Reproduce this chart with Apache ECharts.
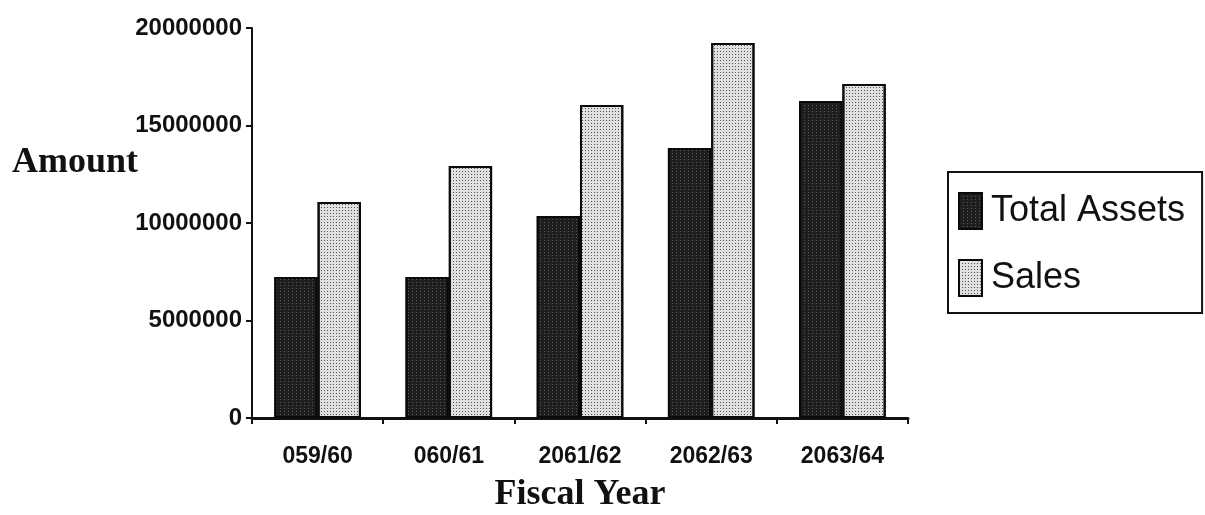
<!DOCTYPE html>
<html>
<head>
<meta charset="utf-8">
<script src="https://cdn.jsdelivr.net/npm/echarts@6/dist/echarts.min.js"></script>
<style>
  html, body { margin: 0; padding: 0; background: #fff; }
  #chart { width: 1205px; height: 515px; }
</style>
</head>
<body>
<div id="chart"></div>
<script>
// Fiscal years on the category axis
const fiscalYears = ['059/60', '060/61', '2061/62', '2062/63', '2063/64'];
// Amounts per fiscal year
const totalAssets = [7230000, 7230000, 10360000, 13850000, 16260000];
const sales = [11080000, 12920000, 16050000, 19230000, 17130000];
// Value axis range and step
const amountMax = 20000000;
const amountStep = 5000000;

const sans = "'Liberation Sans', Arial, sans-serif";
const serif = "'Liberation Serif', 'Times New Roman', serif";

const chart = echarts.init(document.getElementById('chart'), null, { renderer: 'canvas' });

chart.setOption({
  backgroundColor: '#ffffff',
  animation: false,
  grid: { left: 252, right: 297, top: 28, bottom: 97, containLabel: false, outerBoundsMode: 'none' },
  legend: {
    orient: 'vertical',
    left: 948,
    top: 172,
    padding: [20, 17, 16, 10],
    itemGap: 29,
    itemWidth: 23,
    itemHeight: 36,
    borderColor: '#111',
    borderWidth: 2,
    borderRadius: 0,
    icon: 'rect',
    textStyle: { fontFamily: sans, fontSize: 36, color: '#111', padding: [0, 0, 0, 4] },
    data: ['Total Assets', 'Sales']
  },
  xAxis: {
    type: 'category',
    data: fiscalYears,
    name: 'Fiscal Year',
    nameLocation: 'middle',
    nameGap: 59,
    nameMoveOverlap: false,
    nameTextStyle: { fontFamily: serif, fontWeight: 'bold', fontSize: 36, color: '#111' },
    axisLine: { lineStyle: { color: '#111', width: 3 } },
    axisTick: { show: true, length: 6, lineStyle: { color: '#111', width: 2 } },
    axisLabel: { interval: 0, fontFamily: sans, fontWeight: 'bold', fontSize: 23, color: '#111', margin: 27 }
  },
  yAxis: {
    type: 'value',
    min: 0,
    max: amountMax,
    interval: amountStep,
    name: '{t|Amount}\n{s|}',
    nameLocation: 'middle',
    nameRotate: 0,
    nameGap: 114,
    nameMoveOverlap: false,
    nameTextStyle: {
      rich: {
        t: { fontFamily: serif, fontWeight: 'bold', fontSize: 36, color: '#111', height: 40, align: 'right' },
        s: { height: 120 }
      }
    },
    axisLine: { show: true, lineStyle: { color: '#111', width: 2 } },
    axisTick: { show: true, length: 6, lineStyle: { color: '#111', width: 2 } },
    splitLine: { show: false },
    axisLabel: {
      fontFamily: sans, fontWeight: 'bold', fontSize: 24, color: '#111', margin: 10,
      formatter: (v) => String(v)
    }
  },
  series: [
    {
      name: 'Total Assets',
      type: 'bar',
      data: totalAssets,
      barGap: '0%',
      barCategoryGap: '34%',
      itemStyle: {
        color: '#1e1e1e',
        borderColor: '#0a0a0a',
        borderWidth: 2,
        decal: {
          symbol: 'rect',
          symbolSize: 1,
          color: 'rgba(140,140,140,0.5)',
          dashArrayX: [1, 3],
          dashArrayY: [1, 2],
          rotation: 0
        }
      }
    },
    {
      name: 'Sales',
      type: 'bar',
      data: sales,
      itemStyle: {
        color: '#e0e0e0',
        borderColor: '#0a0a0a',
        borderWidth: 2,
        decal: {
          symbol: 'rect',
          symbolSize: 1,
          color: 'rgba(20,20,20,0.7)',
          dashArrayX: [1, 2],
          dashArrayY: [1, 2],
          rotation: 0
        }
      }
    }
  ]
});
</script>
</body>
</html>
